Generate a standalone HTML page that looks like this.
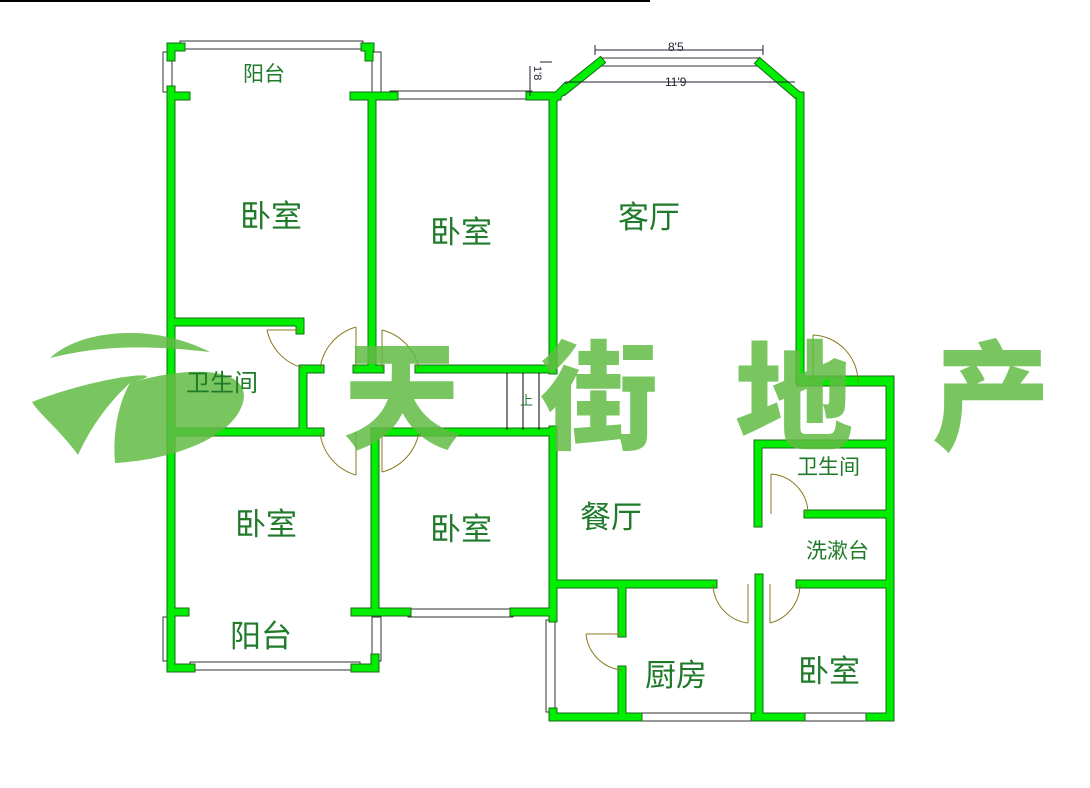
<!DOCTYPE html>
<html><head><meta charset="utf-8"><style>
html,body{margin:0;padding:0;background:#fff;width:1090px;height:788px;overflow:hidden}
svg{display:block}
.lb{font-family:"Liberation Sans","Noto Sans CJK SC",sans-serif;fill:#1f7a2a}
.wm{font-family:"Noto Sans CJK SC","WenQuanYi Zen Hei",sans-serif;font-weight:900;fill:#62bb45;opacity:.85}
</style></head><body>
<svg width="1090" height="788" viewBox="0 0 1090 788" xmlns="http://www.w3.org/2000/svg">
<line x1="0" y1="1" x2="650" y2="1" stroke="#000" stroke-width="2"/>
<!-- windows -->
<g fill="#fff" stroke="#333" stroke-width="1">
<rect x="180" y="41" width="183" height="8"/>
<rect x="163" y="52" width="9" height="40"/>
<rect x="372" y="52" width="9" height="40"/>
<rect x="390" y="91" width="142" height="8"/>
<rect x="600" y="58" width="160" height="8"/>
<rect x="190" y="662" width="170" height="8"/>
<rect x="163" y="617" width="9" height="44"/>
<rect x="372" y="617" width="9" height="44"/>
<rect x="408" y="609" width="105" height="8"/>
<rect x="546" y="620" width="9" height="92"/>
<rect x="638" y="713" width="115" height="8"/>
<rect x="803" y="713" width="65" height="8"/>
</g>
<!-- walls -->
<g stroke="#1a6a1a" stroke-width="9" stroke-linecap="square" fill="none">
<path d="M171 47h10M365 47h5M171 47v10M369 47v10M171 90V668h20M355 668h20v-10M171 96h15M354 96h40M530 96h27M372 96v273M553 96v274M557 96l8-8M565 90l35-28M760 63l35 30M800 96v284h90v337h-20M801 717h-46M638 717h-85v-5M553 618V612M801 382h88M758 444h131M758 444v79M808 514h81M553 584h160M800 584h89M759 578v139M622 584v49M622 670v47M553 430v182M171 322h129v8M303 370v62M171 432h149M380 432h173M303 369h17M357 369h23M419 369h134M375 432v180M171 612h14M355 612h20M375 612h32M514 612h39"/>
</g>
<g stroke="#00ee00" stroke-width="7" stroke-linecap="square" fill="none">
<path d="M171 47h10M365 47h5M171 47v10M369 47v10M171 90V668h20M355 668h20v-10M171 96h15M354 96h40M530 96h27M372 96v273M553 96v274M557 96l8-8M565 90l35-28M760 63l35 30M800 96v284h90v337h-20M801 717h-46M638 717h-85v-5M553 618V612M801 382h88M758 444h131M758 444v79M808 514h81M553 584h160M800 584h89M759 578v139M622 584v49M622 670v47M553 430v182M171 322h129v8M303 370v62M171 432h149M380 432h173M303 369h17M357 369h23M419 369h134M375 432v180M171 612h14M355 612h20M375 612h32M514 612h39"/>
</g>
<!-- doors -->
<g stroke="#8a7a20" stroke-width="1" fill="none">
<path d="M267 330h33M267 330a50 50 0 0 0 36 38"/>
<path d="M356 327v42M356 327a50 50 0 0 0 -36 42"/>
<path d="M382 330v39M382 330a50 50 0 0 1 37 39"/>
<path d="M356 475v-43M356 475a50 50 0 0 1 -36 -43"/>
<path d="M382 472v-40M382 472a50 50 0 0 0 37 -40"/>
<path d="M813 335v47M813 335a47 47 0 0 1 45 47"/>
<path d="M771 474v40M771 474a40 40 0 0 1 37 40"/>
<path d="M748 623v-39M748 623a40 40 0 0 1 -35 -39"/>
<path d="M770 623v-39M770 623a40 40 0 0 0 30 -39"/>
<path d="M586 634h36M586 634a40 40 0 0 0 36 36"/>
</g>
<!-- stairs -->
<g stroke="#000" stroke-width="1"><path d="M507 373v57M523 373v57M539 373v57"/></g>
<text x="520" y="405" font-size="13" class="lb" fill="#000">上</text>
<!-- dims -->
<g stroke="#223" stroke-width="1" fill="none"><path d="M595 50h168M595 45v10M763 45v10M565 82h230M540 62h12M530 66v30"/></g>
<text x="668" y="51" font-size="12" font-family="Liberation Sans" fill="#223">8'5</text>
<text x="665" y="86" font-size="12" font-family="Liberation Sans" fill="#223">11'9</text>
<text x="534" y="80" font-size="11" font-family="Liberation Sans" fill="#223" transform="rotate(90 534 80)" dx="-14">1'8</text>
<!-- watermark -->
<g fill="#62bb45" opacity=".85">
<path d="M50 358C80 330 150 322 210 352C150 345 100 345 50 358Z"/>
<path d="M32 402C110 372 180 370 130 383C100 410 85 440 78 455C60 430 40 415 32 402Z"/>
<path d="M130 383C200 362 260 370 240 410C225 440 170 460 115 463C112 430 120 400 130 383Z"/>
</g>
<g class="wm" font-size="118">
<text x="343" y="440">天</text>
<text x="540" y="440">街</text>
<text x="735" y="440">地</text>
<text x="932" y="440">产</text>
</g>
<!-- labels -->
<g class="lb">
<text x="243" y="81" font-size="21">阳台</text>
<text x="240" y="227" font-size="31">卧室</text>
<text x="430" y="243" font-size="31">卧室</text>
<text x="618" y="228" font-size="31">客厅</text>
<text x="186" y="391" font-size="24">卫生间</text>
<text x="235" y="535" font-size="31">卧室</text>
<text x="430" y="540" font-size="31">卧室</text>
<text x="580" y="528" font-size="31">餐厅</text>
<text x="797" y="474" font-size="21">卫生间</text>
<text x="806" y="558" font-size="21">洗漱台</text>
<text x="230" y="647" font-size="31">阳台</text>
<text x="645" y="686" font-size="31">厨房</text>
<text x="798" y="682" font-size="31">卧室</text>
</g>
</svg>
</body></html>
